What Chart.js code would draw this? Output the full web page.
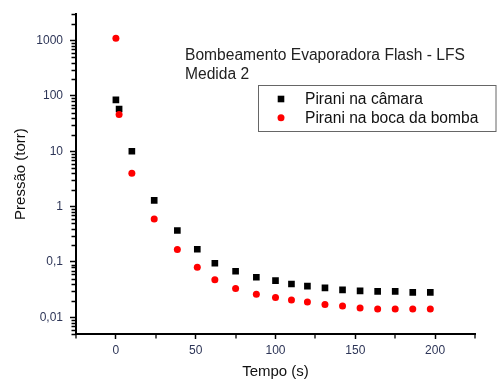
<!DOCTYPE html>
<html>
<head>
<meta charset="utf-8">
<script src="https://cdn.jsdelivr.net/npm/chart.js@4/dist/chart.umd.min.js"></script>
<style>
  html, body { margin: 0; padding: 0; background: #fff; }
  canvas { display: block; }
</style>
</head>
<body>
<canvas id="chart" width="497" height="383"></canvas>
<script>
// Pump-down curve, Evaporadora Flash (LFS), medida 2.

const plotTitle = ["Bombeamento Evaporadora Flash - LFS", "Medida 2"];

const timeCamara = [0, 2, 10, 24, 38.5, 51, 62, 75, 88, 100, 110, 120, 131, 142, 153, 164, 175, 186, 197];
const pressCamara = [85, 58, 10, 1.3, 0.37, 0.17, 0.095, 0.068, 0.053, 0.046, 0.040, 0.0366, 0.034, 0.0314, 0.030, 0.0294, 0.0294, 0.0282, 0.0282];

const timeBoca = [0, 2, 10, 24, 38.5, 51, 62, 75, 88, 100, 110, 120, 131, 142, 153, 164, 175, 186, 197];
const pressBoca = [1100, 46, 4, 0.6, 0.168, 0.08, 0.0476, 0.0333, 0.026, 0.0229, 0.0205, 0.0189, 0.0171, 0.016, 0.0147, 0.0141, 0.0141, 0.0141, 0.0141];

const xTicks = [0, 50, 100, 150, 200];
const xMinorTicks = [-25, 25, 75, 125, 175, 225];
const yTicks = [0.01, 0.1, 1, 10, 100, 1000];
const yTickLabels = ["0,01", "0,1", "1", "10", "100", "1000"];

const FONT = "'Liberation Sans', Arial, sans-serif";
const LABEL_COLOR = "#2d3557";

function toPoints(xs, ys) {
  return xs.map((x, i) => ({ x, y: ys[i] }));
}

// minor tick marks + annotation text + legend box
const decorPlugin = {
  id: "decor",
  afterDraw(chart) {
    const { ctx, chartArea } = chart;
    const xs = chart.scales.x;
    const ys = chart.scales.y;
    ctx.save();
    ctx.strokeStyle = "#000";
    ctx.lineWidth = 1.3;
    ctx.beginPath();
    for (let e = -3; e <= 3; e++) {
      for (let m = 2; m <= 9; m++) {
        const v = m * Math.pow(10, e);
        if (v < ys.min || v > ys.max * 1.0001) continue;
        const py = Math.round(ys.getPixelForValue(v)) + 0.5;
        ctx.moveTo(chartArea.left, py);
        ctx.lineTo(chartArea.left - 4.5, py);
      }
    }
    xMinorTicks.forEach((v) => {
      const px = Math.round(xs.getPixelForValue(v));
      ctx.moveTo(px, chartArea.bottom);
      ctx.lineTo(px, chartArea.bottom + 4.5);
    });
    ctx.stroke();

    ctx.fillStyle = "#222";
    ctx.font = "15.6px " + FONT;
    ctx.textBaseline = "alphabetic";
    ctx.textAlign = "left";
    plotTitle.forEach((line, i) => ctx.fillText(line, 185, 59.5 + i * 19));

    // legend
    ctx.strokeStyle = "#666";
    ctx.lineWidth = 1;
    ctx.strokeRect(258.5, 85.5, 237.5, 46);
    chart.data.datasets.forEach((ds, i) => {
      const cy = 99 + i * 18.7;
      ctx.fillStyle = ds.backgroundColor;
      if (ds.pointStyle === "rect") {
        ctx.fillRect(277.7, cy - 3.3, 6.6, 6.6);
      } else {
        ctx.beginPath();
        ctx.arc(281, cy, 3.5, 0, Math.PI * 2);
        ctx.fill();
      }
      ctx.fillStyle = "#111";
      ctx.fillText(ds.label, 305, cy + 5.3);
    });
    ctx.restore();
  },
};

new Chart(document.getElementById("chart"), {
  type: "scatter",
  data: {
    datasets: [
      {
        label: "Pirani na câmara",
        data: toPoints(timeCamara, pressCamara),
        pointStyle: "rect",
        pointRadius: 4.7,
        backgroundColor: "#000",
        borderColor: "#000",
        borderWidth: 0,
        order: 2,
      },
      {
        label: "Pirani na boca da bomba",
        data: toPoints(timeBoca, pressBoca),
        pointStyle: "circle",
        pointRadius: 3.5,
        backgroundColor: "#ff0000",
        borderColor: "#ff0000",
        borderWidth: 0,
        order: 1,
      },
    ],
  },
  options: {
    responsive: false,
    animation: false,
    layout: { padding: { top: 12, right: 22, left: 0, bottom: 0 } },
    plugins: {
      legend: { display: false },
      tooltip: { enabled: false },
    },
    scales: {
      x: {
        type: "linear",
        min: -25,
        max: 225,
        afterFit(scale) { scale.height = 49; },
        afterBuildTicks(scale) { scale.ticks = xTicks.map((v) => ({ value: v })); },
        border: { display: true, color: "#000", width: 2 },
        grid: { drawOnChartArea: false, drawTicks: true, tickLength: 5, tickColor: "#000", tickWidth: 1.5 },
        ticks: { color: LABEL_COLOR, font: { family: FONT, size: 12 }, padding: 4, maxRotation: 0 },
        title: {
          display: true,
          text: "Tempo (s)",
          color: "#111",
          font: { family: FONT, size: 15 },
          padding: { top: 0, bottom: 2 },
        },
      },
      y: {
        type: "logarithmic",
        min: 0.005,
        max: 3000,
        afterFit(scale) { scale.width = 76; },
        afterBuildTicks(scale) { scale.ticks = yTicks.map((v) => ({ value: v })); },
        border: { display: true, color: "#000", width: 2 },
        grid: { drawOnChartArea: false, drawTicks: true, tickLength: 6, tickColor: "#000", tickWidth: 1.5 },
        ticks: {
          color: LABEL_COLOR,
          font: { family: FONT, size: 12 },
          padding: 7,
          callback: (v) => {
            const i = yTicks.findIndex((t) => Math.abs(t - v) / t < 1e-6);
            return i >= 0 ? yTickLabels[i] : "";
          },
        },
        title: {
          display: true,
          text: "Pressão (torr)",
          color: "#111",
          font: { family: FONT, size: 15 },
          padding: { top: 11.5, bottom: 0 },
        },
      },
    },
  },
  plugins: [decorPlugin],
});
</script>
</body>
</html>
